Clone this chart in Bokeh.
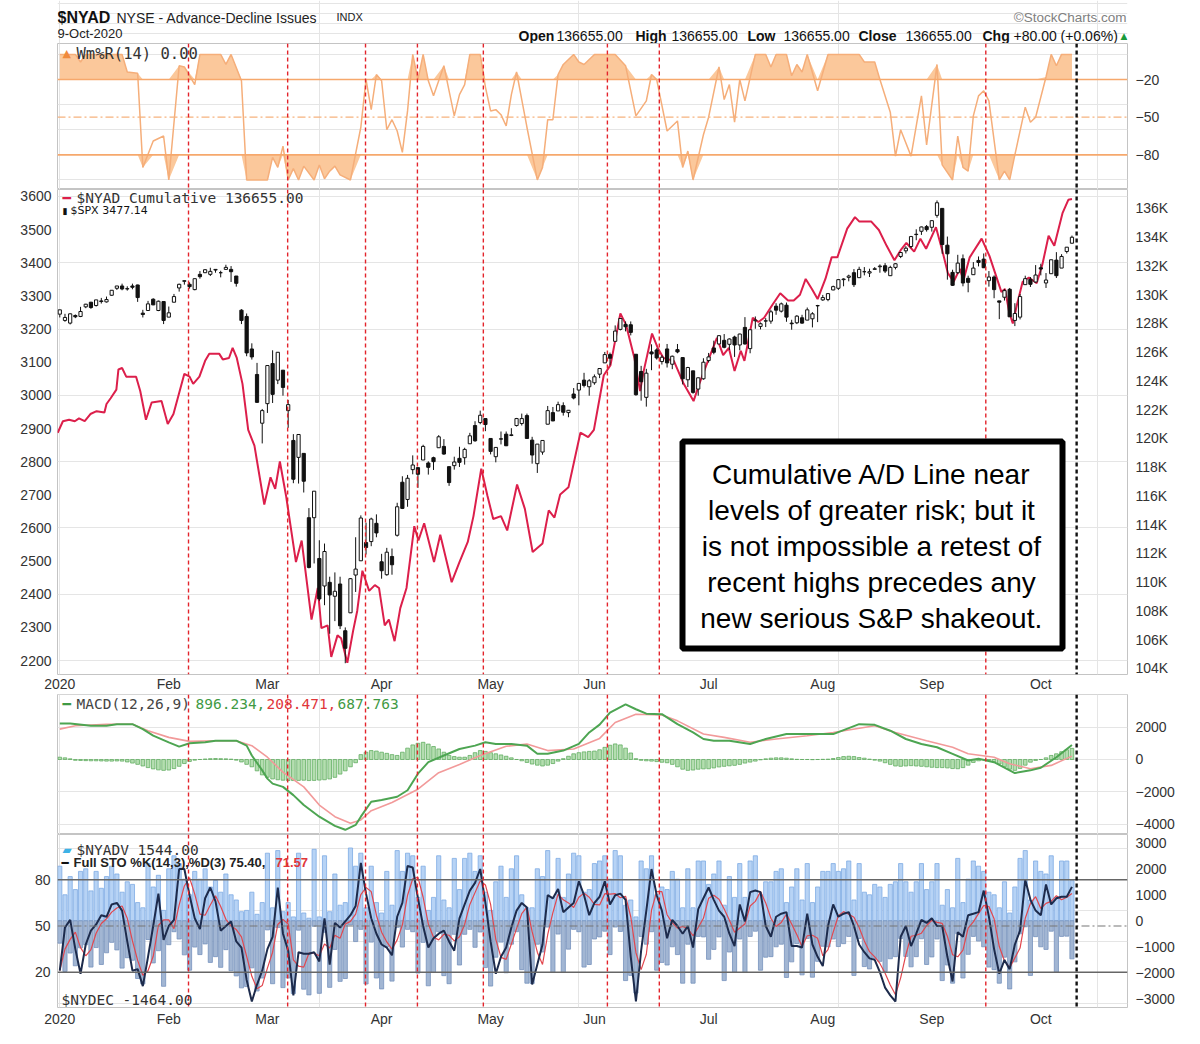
import numpy as np
import pandas as pd
from bokeh.plotting import figure
from bokeh.models import Range1d, LinearAxis, FixedTicker, Span, Label, BoxAnnotation
from bokeh.layouts import column
from bokeh.embed import file_html
from bokeh.resources import INLINE

# ---------------- data ----------------
month_days = [0, 21, 40, 62, 83, 103, 125, 147, 168, 189]
month_labels = ["2020", "Feb", "Mar", "Apr", "May", "Jun", "Jul", "Aug", "Sep", "Oct"]
marker_days = [24.8, 43.9, 58.9, 68.9, 81.6, 105.5, 115.5, 178.4]
last_day_marker = 195.9

spx_open = [
3245,3226,3218,3241,3238,3267,3281,3271,3285,3282,
3302,3323,3330,3321,3330,3333,3248,3256,3290,3256,
3283,3236,3281,3324,3344,3335,3319,3365,3370,3365,
3378,3370,3380,3380,3360,3257,3238,3140,3063,2916,
2975,3096,3046,3076,2954,2864,2813,2825,2631,2631,
2508,2425,2436,2394,2431,2290,2344,2458,2501,2556,
2559,2614,2498,2459,2514,2578,2738,2686,2776,2782,
2805,2796,2812,2842,2846,2785,2788,2810,2812,2854,
2909,2918,2930,2870,2815,2869,2883,2879,2909,2915,
2939,2865,2794,2829,2913,2948,2953,2969,2948,3004,
3016,3046,3026,3038,3064,3098,3123,3163,3199,3214,
3213,3124,3072,2994,3131,3137,3102,3140,3094,3138,
3114,3047,3074,3019,3050,3105,3143,3155,3166,3154,
3176,3152,3205,3141,3225,3208,3224,3224,3269,3254,
3272,3218,3219,3234,3227,3231,3270,3288,3289,3318,
3323,3349,3356,3370,3355,3373,3369,3380,3388,3391,
3361,3386,3419,3436,3449,3486,3495,3509,3507,3543,
3564,3453,3371,3370,3412,3353,3364,3407,3411,3346,
3357,3285,3296,3320,3226,3236,3334,3350,3342,3385,
3339,3367,3408,3384,3434,3459]
spx_high = [
3258,3246,3247,3244,3267,3276,3282,3288,3294,3298,
3317,3330,3337,3329,3337,3334,3258,3285,3293,3286,
3283,3268,3306,3337,3347,3341,3352,3375,3381,3385,
3381,3376,3394,3390,3360,3260,3247,3157,3098,2959,
3091,3136,3130,3076,2986,2883,2883,2825,2660,2711,
2563,2553,2453,2466,2453,2300,2449,2572,2638,2616,
2631,2641,2522,2540,2538,2676,2756,2760,2819,2782,
2851,2801,2815,2880,2868,2785,2815,2845,2842,2887,
2922,2954,2931,2870,2844,2891,2891,2901,2932,2945,
2945,2875,2853,2865,2968,2965,2981,2979,2956,3022,
3036,3068,3049,3063,3082,3131,3129,3211,3233,3223,
3223,3124,3089,3080,3154,3142,3121,3155,3120,3155,
3115,3086,3074,3054,3112,3128,3165,3182,3185,3172,
3180,3186,3236,3200,3238,3220,3233,3258,3278,3280,
3280,3228,3242,3243,3265,3251,3273,3303,3308,3331,
3351,3353,3364,3381,3388,3387,3382,3387,3395,3399,
3391,3399,3432,3450,3481,3501,3509,3514,3528,3588,
3564,3479,3379,3424,3425,3361,3402,3419,3428,3375,
3362,3285,3321,3324,3278,3306,3361,3357,3393,3397,
3369,3409,3432,3426,3447,3482]
spx_low = [
3235,3222,3214,3233,3236,3263,3261,3268,3277,3280,
3300,3318,3317,3316,3320,3282,3235,3256,3272,3254,
3215,3236,3281,3313,3334,3322,3317,3352,3369,3360,
3370,3356,3379,3342,3328,3215,3118,3108,2977,2855,
2947,2977,3034,2999,2902,2735,2734,2707,2478,2493,
2380,2367,2281,2319,2295,2192,2344,2407,2501,2520,
2545,2572,2447,2456,2459,2574,2657,2664,2762,2721,
2805,2761,2775,2842,2821,2727,2776,2784,2791,2854,
2860,2913,2892,2822,2798,2852,2847,2877,2906,2909,
2869,2794,2766,2821,2913,2922,2953,2939,2934,2988,
2970,3024,2999,3032,3052,3098,3091,3163,3196,3193,
3181,2999,2984,2966,3076,3108,3093,3084,3079,3127,
3033,3025,3005,2999,3047,3099,3124,3155,3142,3137,
3116,3136,3153,3127,3201,3199,3206,3216,3243,3250,
3222,3198,3215,3216,3227,3205,3221,3285,3284,3317,
3318,3329,3344,3327,3355,3362,3357,3379,3370,3369,
3360,3380,3414,3428,3444,3468,3484,3494,3494,3536,
3427,3349,3330,3366,3329,3311,3364,3389,3384,3328,
3293,3230,3286,3237,3209,3229,3334,3327,3340,3362,
3324,3367,3354,3384,3428,3458]
spx_close = [
3258,3235,3246,3237,3253,3275,3265,3288,3283,3289,
3317,3330,3321,3322,3326,3295,3244,3276,3273,3284,
3226,3249,3298,3335,3346,3328,3352,3358,3379,3374,
3380,3370,3386,3373,3338,3226,3128,3116,2979,2954,
3090,3003,3130,3024,2972,2747,2882,2741,2481,2711,
2386,2529,2398,2409,2305,2237,2447,2476,2630,2541,
2627,2585,2471,2527,2489,2664,2659,2750,2790,2762,
2846,2783,2800,2875,2823,2737,2799,2798,2837,2878,
2863,2940,2912,2831,2843,2868,2848,2881,2930,2930,
2870,2820,2853,2864,2954,2923,2972,2949,2955,2992,
3036,3030,3044,3056,3081,3123,3112,3194,3232,3207,
3190,3002,3041,3067,3125,3113,3115,3098,3118,3131,
3050,3084,3009,3053,3100,3116,3130,3180,3145,3170,
3152,3185,3155,3198,3227,3216,3225,3252,3257,3276,
3236,3216,3239,3218,3258,3246,3271,3295,3307,3328,
3349,3351,3360,3334,3380,3373,3373,3382,3390,3375,
3386,3397,3431,3444,3479,3485,3508,3500,3527,3581,
3455,3427,3332,3399,3339,3341,3384,3401,3385,3357,
3319,3281,3316,3237,3247,3298,3352,3335,3363,3381,
3348,3409,3361,3419,3447,3477]

# $NYAD cumulative (thousands), read at the line's vertices
nyad_day = [-0.4,0.6,1.8,2.9,3.7,4.8,5.9,7.1,8.6,9.0,
9.8,10.9,11.3,12.0,12.8,14.7,15.5,16.6,17.7,19.6,
20.8,21.9,23.1,24.0,25.0,25.7,26.9,28.0,28.8,30.7,
31.4,32.6,33.3,34.1,35.2,36.3,37.5,39.4,40.6,41.5,
42.4,43.6,45.5,46.6,48.5,49.7,50.4,51.6,52.3,53.5,
54.2,55.4,56.5,57.3,58.3,59.6,60.7,61.5,62.6,63.4,
64.5,65.6,66.8,68.3,69.1,70.2,72.1,73.3,75.5,77.0,
78.6,79.7,81.2,82.4,83.5,85.0,86.2,88.1,89.6,91.1,
93.0,94.2,95.3,96.4,98.0,100.3,101.8,102.9,104.8,106.1,
108.0,109.1,110.7,111.8,112.5,114.1,115.2,116.3,118.3,120.2,
122.1,123.2,125.1,126.6,127.8,128.9,130.0,131.2,131.9,133.5,
134.6,135.7,137.3,138.8,140.3,141.4,142.6,143.7,144.9,146.0,
147.5,148.7,149.8,151.7,153.2,154.0,156.3,157.8,159.3,160.8,
162.0,163.1,164.6,165.8,166.9,168.8,170.0,171.1,172.2,173.4,
174.1,175.3,177.6,179.1,180.3,181.4,182.1,182.9,183.6,184.4,
185.5,186.7,188.2,189.3,190.5,191.6,193.2,194.3,195.0]
nyad_k = [120.4,121.2,121.3,121.2,121.4,121.2,121.7,121.9,121.8,122.4,
122.8,123.4,124.8,124.9,124.3,124.3,123.3,121.3,122.5,122.6,
121.0,121.7,123.3,124.5,124.3,123.8,124.3,125.4,125.9,125.9,
125.5,125.6,126.3,125.6,123.8,120.6,119.5,115.4,117.3,116.5,
118.4,116.0,111.4,112.9,107.4,109.6,106.8,107.0,104.8,106.3,
106.1,104.4,106.6,108.0,110.8,109.4,109.8,109.6,107.0,107.4,
105.9,108.2,109.6,113.9,112.9,114.1,111.4,113.3,110.0,111.4,
112.8,114.6,117.9,116.0,114.4,114.6,113.6,116.8,115.1,112.1,
112.7,115.0,114.5,116.1,116.6,120.4,120.1,120.6,124.4,125.1,
128.7,127.9,125.6,123.3,124.7,127.3,126.3,125.6,125.4,123.8,
122.6,123.8,125.6,127.0,125.8,126.3,124.7,126.1,125.4,128.4,
128.1,128.4,129.3,130.1,129.6,129.6,130.0,131.1,130.4,129.7,
131.1,132.6,132.6,134.6,135.4,135.1,135.1,134.5,133.4,132.4,
133.1,133.6,133.0,133.9,133.2,134.7,133.1,131.5,130.9,131.8,
131.0,132.6,133.9,132.7,131.4,130.2,130.4,128.8,128.0,129.3,
130.9,131.2,130.8,132.1,134.1,133.4,135.7,136.6,136.655]

# Williams %R(14)
wmr_day = [0,3,4,5,12,13,15,16,18,20, 21,23,24,26,27,29,31,32,33,35,
36,40,41,42,43,44,45,46,47,49, 50,51,52,53,54,56,58,59,60,61,
62,63,64,65,66,67,68,69,70,71, 72,74,75,76,77,78,79,81,82,83,
84,85,86,87,88,89,90,92,93,94, 95,96,97,99,100,101,103,107,109,111,
113,114,115,117,119,120,121,122,124,125, 127,128,129,130,131,132,134,136,137,138,
140,141,142,143,144,146,148,154,155,157, 158,160,161,162,164,166,167,169,170,172,
173,174,175,176,177,178,179,181,182,183, 184,186,187,188,190,191,192,193,195]
wmr_val = [0,0,-6,0,0,-14,-15,-90,-69,-65, -100,-9,-10,-24,0,0,0,-8,0,-21,
-100,-100,-82,-90,-73,-100,-91,-100,-89,-100, -88,-99,-93,-89,-96,-100,-58,-20,-44,-16,
-21,-60,-52,-61,-78,-45,0,-20,0,-21, -33,-9,-29,-49,-32,-24,0,0,-26,-45,
-44,-48,-57,-32,-14,-36,-58,-100,-90,-52, -52,-16,-8,0,-6,-8,0,0,-9,-49,
-37,-16,-20,-61,-53,-90,-77,-100,-64,-50, -10,-36,-24,-54,-20,-37,0,0,-10,0,
0,-17,-8,-14,0,-29,0,0,-6,-6, -20,-46,-81,-60,-81,-33,-72,-8,-88,-100,
-65,-90,-93,-49,-33,-29,-37,-100,-93,-100, -80,-42,-54,-50,-18,0,-9,0,0]

# MACD(12,26,9)
macd_day = [0,2,6,9,11,14,16,18,21,23, 25,28,30,34,36,37,39,40,41,43,
45,47,50,53,55,57,58,60,62,65, 67,69,71,74,77,80,82,84,87,90,
92,94,97,100,102,104,106,109,111,113, 116,119,122,124,126,129,133,136,140,144,
149,154,157,160,163,166,169,172,175,177, 180,184,187,189,192,195]
macd_val = [2220,2220,2080,2080,2180,2180,1875,1470,1060,795, 1000,1060,1160,1160,855,245,-670,-1180,-1490,-1690,
-2200,-2810,-3530,-4100,-4340,-4040,-3530,-2610,-2500,-2300, -1900,-875,-165,245,650,855,1060,960,960,855,
350,350,550,960,1670,2150,2890,3400,3100,2830, 2795,2180,1670,1265,1160,1160,960,1265,1570,1570,
1570,2180,2140,1775,1265,960,755,350,-60,40, -165,-835,-670,-510,140,896]
signal_day = [0,3,9,14,17,21,25,30,34,37, 40,43,47,50,53,56,58,60,64,69,
73,77,81,86,90,94,99,104,107,111, 116,119,124,128,133,138,144,149,157,161,
167,172,175,180,183,187,191,195]
signal_val = [1875,2080,2180,2180,1775,1365,1120,1160,1160,855, 140,-775,-1690,-2810,-3530,-3935,-3730,-3160,-2650,-1835,
-815,-305,245,815,960,550,650,1300,2280,2795, 2750,2385,1570,1365,1060,1265,1470,1670,2080,1670,
1160,755,350,140,-265,-570,-365,208]
macd_hist = [
140,100,40,-50,-60,-70,-80,-80,-90,-100,
-100,-90,-100,-150,-220,-300,-400,-500,-580,-640,
-670,-650,-560,-420,-250,-120,-40,0,30,50,
60,50,40,20,-40,-150,-300,-450,-700,-950,
-1100,-1200,-1250,-1280,-1300,-1300,-1290,-1280,-1300,-1290,
-1270,-1250,-1200,-1100,-900,-700,-450,-200,300,450,
550,520,450,380,300,250,450,700,900,1000,
1060,950,800,650,450,250,180,140,140,250,
420,550,500,420,350,280,200,100,0,-80,
-180,-280,-350,-400,-350,-250,-100,50,200,350,
420,470,500,520,600,750,880,960,900,700,
400,50,-50,-80,-100,-130,-170,-200,-300,-450,
-600,-670,-650,-600,-580,-570,-520,-460,-420,-390,
-360,-300,-220,-160,-100,-20,40,80,100,100,
80,40,10,0,0,-10,0,10,20,60,
120,180,200,180,120,80,20,-40,-100,-200,
-300,-400,-420,-400,-380,-400,-420,-450,-480,-500,
-500,-520,-560,-570,-500,-350,-180,-80,0,-50,
-165,-280,-450,-600,-670,-550,-350,-165,-60,0,
100,250,350,480,600,688]

# NYSE advancing / declining issues
nyadv = [
2100,1000,1700,1200,1900,2000,1150,1900,1250,1700,
2100,1800,1100,1500,1400,700,500,2200,1300,1750,
400,2000,2500,2200,1600,1000,1900,1600,2000,1300,
1550,1100,1800,1000,800,350,400,1100,250,700,
2600,500,2700,350,700,150,2600,300,100,2750,
150,2500,350,1800,600,700,2800,2100,2600,500,
2100,700,300,1900,600,2700,1900,2600,2500,900,
2100,400,900,2500,800,500,2400,1200,2400,2600,
1900,2500,1100,400,1500,2100,900,2000,2500,1000,
500,500,2000,1700,2700,900,2400,900,1800,2600,
2500,1100,1200,2200,2300,2500,1600,2700,2500,600,
800,150,2300,2000,2500,1000,1300,1200,1900,1600,
500,2000,500,2300,2300,1400,1800,2300,600,1700,
900,2200,900,2300,2500,1000,1500,1500,1900,2000,
700,1300,2000,800,2200,700,1300,1900,1900,2200,
1900,2000,2300,800,2200,1100,1000,1400,1300,900,
1400,1500,2200,1500,1100,1500,2200,1200,1500,2200,
600,1200,500,2400,700,1600,2300,2100,1900,1100,
1000,500,1500,300,1300,2400,2700,800,2300,1900,
1800,2500,900,2300,2300,1544]
nydec = [
-860,-1950,-1240,-1730,-1040,-920,-1780,-1030,-1680,-1230,
-830,-1120,-1820,-1420,-1520,-2220,-2430,-720,-1620,-1150,
-2520,-920,-420,-700,-1310,-1900,-1010,-1300,-890,-1600,
-1380,-1790,-1110,-1920,-2120,-2580,-2530,-1810,-2700,-2200,
-350,-2420,-260,-2570,-2200,-2800,-360,-2630,-2850,-210,
-2790,-440,-2560,-1100,-2330,-2220,-160,-800,-330,-2430,
-820,-2200,-2620,-1000,-2320,-250,-1010,-330,-420,-2010,
-830,-2500,-1990,-420,-2110,-2420,-520,-1700,-520,-330,
-1020,-430,-1800,-2510,-1400,-820,-2000,-900,-420,-1880,
-2400,-2410,-900,-1200,-240,-1990,-510,-1990,-1090,-330,
-420,-1780,-1680,-700,-620,-400,-1300,-240,-410,-2300,
-2100,-2780,-600,-900,-420,-1900,-1600,-1700,-1000,-1300,
-2400,-900,-2400,-600,-620,-1480,-1100,-620,-2300,-1200,
-1980,-700,-1990,-600,-400,-1900,-1400,-1380,-1000,-900,
-2180,-1580,-880,-2080,-680,-2170,-1560,-980,-1000,-700,
-990,-880,-600,-2100,-680,-1760,-1850,-1450,-1560,-1950,
-1460,-1380,-680,-1370,-1770,-1380,-690,-1680,-1390,-700,
-2300,-1700,-2400,-500,-2200,-1290,-600,-780,-1000,-1780,
-1880,-2400,-1400,-2620,-1580,-500,-230,-2100,-610,-1000,
-1100,-400,-1980,-600,-590,-1464]

# Full stochastics %K(14,3)
sto_k = [
21,49,54,35,19,38,47,51,57,56,
64,65,60,40,21,22,11,30,50,71,
41,50,54,87,87,70,55,48,68,75,
66,47,50,53,40,36,15,1,12,21,
35,43,75,45,34,5,33,32,32,33,
27,55,25,52,49,53,57,63,91,71,
55,45,38,36,31,56,65,89,88,68,
50,36,42,45,47,40,34,55,64,73,
78,87,65,40,19,30,36,49,60,65,
62,12,25,38,70,68,74,59,62,65,
79,70,57,65,69,79,64,70,71,67,
30,1,34,60,87,70,60,42,54,50,
45,50,36,61,68,75,67,60,56,45,
37,64,53,72,73,72,50,43,56,58,
59,37,37,36,58,38,30,24,50,64,
56,58,59,50,38,33,29,28,20,10,
5,1,43,50,37,45,54,52,55,50,
50,30,14,46,43,57,58,59,73,56,
35,19,28,22,38,47,80,67,60,57,
77,64,68,69,69,75.4]

# ---------------- arrays ----------------
days = np.arange(len(spx_close))
o = np.array(spx_open, float); c = np.array(spx_close, float)
hi = np.array(spx_high, float); lo = np.array(spx_low, float)
up = c >= o
wv = np.array(wmr_val, float)
sto_d = pd.Series(sto_k).rolling(3, min_periods=1).mean().values

# ---------------- layout helpers ----------------
W = 1192
BL, BR = 57, 65                       # frame borders (left / right)
XR = Range1d(-0.44, 205.7)            # trading-day axis shared by the panels
TICK_FONT = "Liberation Sans"
MONO = "DejaVu Sans Mono"

def make_fig(h, yr, bottom=0, outline=True):
    p = figure(width=W, height=h, x_range=XR, y_range=yr, output_backend="svg",
               toolbar_location=None, tools="", x_axis_location=None, y_axis_location=None,
               min_border_left=BL, min_border_right=BR, min_border_top=0, min_border_bottom=bottom)
    p.outline_line_color = "#c4c4c4" if outline else None
    p.outline_line_width = 1
    p.background_fill_color = "white"
    p.border_fill_color = "white"
    return p

def style_axis(ax, standoff):
    ax.axis_line_color = None
    ax.major_tick_line_color = None
    ax.minor_tick_line_color = None
    ax.major_tick_out = 0
    ax.major_tick_in = 0
    ax.minor_tick_out = 0
    ax.major_label_text_font = TICK_FONT
    ax.major_label_text_font_size = "14px"
    ax.major_label_text_color = "#333333"
    ax.major_label_standoff = standoff

def add_yaxis(p, side, ticks, standoff, range_name="default", overrides=None):
    ax = LinearAxis(y_range_name=range_name, ticker=FixedTicker(ticks=ticks))
    if overrides:
        ax.major_label_overrides = overrides
    style_axis(ax, standoff)
    p.add_layout(ax, side)

def add_xaxis(p, standoff):
    ax = LinearAxis(ticker=FixedTicker(ticks=month_days))
    ax.major_label_overrides = {d: m for d, m in zip(month_days, month_labels)}
    style_axis(ax, standoff)
    p.add_layout(ax, "below")

def lab(p, x, y, text, size="14.5px", font=MONO, color="#333333", style="normal", align="left"):
    p.add_layout(Label(x=x, y=y, x_units="screen", y_units="screen", text=text, text_font=font,
                       text_font_size=size, text_color=color, text_font_style=style,
                       text_align=align, text_baseline="middle"))

def add_markers(p):
    for d in marker_days:
        p.add_layout(Span(location=d, dimension="height", line_color="#e3242b",
                          line_dash="4 3", line_width=1.4))
    p.add_layout(Span(location=last_day_marker, dimension="height", line_color="#111111",
                      line_dash="4 3", line_width=2.4))

# ---------------- header (texts placed relative to the aligned frame: page x - 57, 43 - page y) ----------------
p0 = make_fig(43, Range1d(0, 43), outline=False)
lab(p0, 0, 26, "$NYAD", size="16px", font="Liberation Sans", color="#111111", style="bold")
lab(p0, 59, 26, "NYSE - Advance-Decline Issues", size="14px", font="Liberation Sans", color="#222222")
lab(p0, 279, 27, "INDX", size="11px", font="Liberation Sans", color="#222222")
lab(p0, 0, 10, "9-Oct-2020", size="13px", font="Liberation Sans", color="#222222")
lab(p0, 1069, 26, "\u00a9StockCharts.com", size="13.5px", font="Liberation Sans", color="#808080", align="right")
hdr = [(461, "Open", "bold"), (499, "136655.00", "normal"), (578, "High", "bold"), (614, "136655.00", "normal"),
       (690, "Low", "bold"), (726, "136655.00", "normal"), (801, "Close", "bold"), (848, "136655.00", "normal"),
       (925, "Chg", "bold"), (956, "+80.00 (+0.06%)", "normal")]
for hx, ht, hs in hdr:
    lab(p0, hx, 8, ht, size="14px", font="Liberation Sans", color="#111111", style=hs)
lab(p0, 1063, 8, "\u25b2", size="9px", font="DejaVu Sans", color="#1a9a3a")

# ---------------- panel 1: Williams %R ----------------
p1 = make_fig(146, Range1d(-107.6, 8.7))
add_yaxis(p1, "right", [-20, -50, -80], 8)
p1.varea(x=wmr_day, y1=-20, y2=np.maximum(wv, -20), fill_color="#fbc89b", fill_alpha=1.0)
p1.varea(x=wmr_day, y1=np.minimum(wv, -80), y2=-80, fill_color="#fbc89b", fill_alpha=1.0)
for lvl in (-20, -80):
    p1.add_layout(Span(location=lvl, dimension="width", line_color="#f6a86c", line_width=1.6, level="glyph"))
p1.add_layout(Span(location=-50, dimension="width", line_color="#f6b27e", line_width=1.3,
                   line_dash="8 3 2 3", level="glyph"))
p1.line(wmr_day, wmr_val, line_color="#f5ae7a", line_width=1.5)
add_markers(p1)
lab(p1, 5, 136, "\u25b2", size="11px", font="DejaVu Sans", color="#f08a3c")
lab(p1, 19, 136, "Wm%R(14) 0.00", size="15.5px")

# ---------------- panel 2: NYAD cumulative + SPX candles ----------------
p2 = make_fig(505, Range1d(2158, 3621), bottom=18)
p2.extra_y_ranges = {"nyad": Range1d(103.58, 137.32)}
add_yaxis(p2, "left", list(range(2200, 3601, 100)), 6)
add_yaxis(p2, "right", list(range(104, 137, 2)), 8, "nyad", {v: f"{v}K" for v in range(104, 137, 2)})
add_xaxis(p2, 1)
p2.line(nyad_day, nyad_k, y_range_name="nyad", line_color="#dc1f4b", line_width=2)
p2.segment(x0=days, y0=lo, x1=days, y1=hi, line_color="#111111", line_width=1)
p2.vbar(x=days[up], bottom=o[up], top=c[up], width=0.62, fill_color="white", line_color="#111111", line_width=1)
p2.vbar(x=days[~up], bottom=o[~up], top=c[~up], width=0.62, fill_color="#111111", line_color="#111111", line_width=1)
add_markers(p2)
p2.add_layout(BoxAnnotation(left=625, right=1005, top=233, bottom=26, left_units="screen", right_units="screen",
                            top_units="screen", bottom_units="screen", fill_color="white", fill_alpha=1.0,
                            line_color="black", line_alpha=1.0, line_width=6))
note = ["Cumulative A/D Line near", "levels of greater risk; but it", "is not impossible a retest of",
        "recent highs precedes any", "new serious S&P shakeout."]
for i, t in enumerate(note):
    lab(p2, 814, 200 - 36 * i, t, size="28px", font="Liberation Sans", color="#000000", align="center")
lab(p2, 5, 477, "\u2501", size="14px", color="#dc1f4b")
lab(p2, 19, 477, "$NYAD Cumulative 136655.00", size="14.5px")
lab(p2, 5, 464, "\u25ae", size="9px", font="DejaVu Sans", color="#111111")
lab(p2, 13, 464, "$SPX 3477.14", size="11px", font="DejaVu Sans", color="#111111")

# ---------------- panel 3: MACD ----------------
p3 = make_fig(140, Range1d(-4630, 4012))
add_yaxis(p3, "right", [2000, 0, -2000, -4000], 8)
p3.vbar(x=days, bottom=0, top=macd_hist, width=0.7, fill_color="#b4deb0", line_color="#62ad62", line_width=0.8)
p3.line(signal_day, signal_val, line_color="#f29a9a", line_width=1.6)
p3.line(macd_day, macd_val, line_color="#4da552", line_width=2)
add_markers(p3)
lab(p3, 5, 131, "\u2501", size="14px", color="#3f9a44")
lab(p3, 19, 131, "MACD(12,26,9)", size="14.5px", color="#444444")
lab(p3, 138, 131, "896.234,", size="14.5px", color="#3f9a44")
lab(p3, 209, 131, "208.471,", size="14.5px", color="#e0363a")
lab(p3, 280, 131, "687.763", size="14.5px", color="#3f9a44")

# ---------------- panel 4: NYADV / NYDEC + Full STO ----------------
p4 = make_fig(198, Range1d(-2.9, 109.4), bottom=25)
p4.extra_y_ranges = {"bars": Range1d(-3335, 3319)}
add_yaxis(p4, "left", [20, 50, 80], 7)
add_yaxis(p4, "right", [3000, 2000, 1000, 0, -1000, -2000, -3000], 8, "bars")
add_xaxis(p4, 3)
p4.vbar(x=days, bottom=0, top=nyadv, width=0.8, y_range_name="bars",
        fill_color="#b7d3f5", line_color="#7eabe3", line_width=0.8)
p4.vbar(x=days, bottom=0, top=nydec, width=0.8, y_range_name="bars",
        fill_color="#a2b6d3", line_color="#7692bd", line_width=0.8)
for lvl in (80, 20):
    p4.add_layout(Span(location=lvl, dimension="width", line_color="#666666", line_width=1.6, level="glyph"))
p4.add_layout(Span(location=50, dimension="width", line_color="#777777", line_width=1.2,
                   line_dash="8 3 2 3", level="glyph"))
p4.line(days, sto_d, line_color="#e2474e", line_width=1.2)
p4.line(days, sto_k, line_color="#1d2b4c", line_width=2)
add_markers(p4)
lab(p4, 5, 158, "\u25b0", size="12px", font="DejaVu Sans", color="#3db2e6")
lab(p4, 19, 158, "$NYADV 1544.00", size="14.5px")
lab(p4, 4, 145, "\u2501", size="12px", color="#111111")
lab(p4, 16, 145, "Full STO %K(14,3),%D(3) 75.40,", size="13px", font="Liberation Sans", color="#222222", style="bold")
lab(p4, 218, 145, "71.57", size="13px", font="Liberation Sans", color="#e0363a", style="bold")
lab(p4, 4, 8, "$NYDEC -1464.00", size="14.5px")

layout = column(p0, p1, p2, p3, p4)
open("out.html", "w").write(file_html(layout, INLINE))
